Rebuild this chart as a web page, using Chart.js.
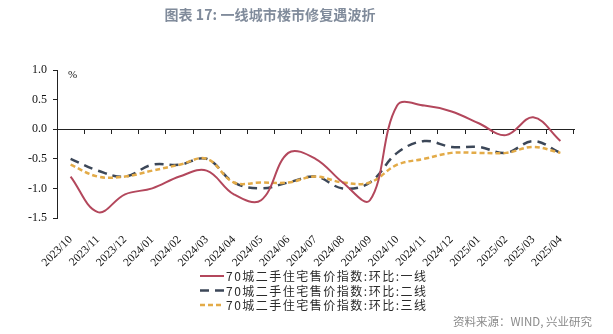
<!DOCTYPE html>
<html>
<head>
<meta charset="utf-8">
<script src="https://cdn.jsdelivr.net/npm/chart.js@4.4.1/dist/chart.umd.min.js"></script>
<style>
  html, body { margin: 0; padding: 0; background: #ffffff; }
  #wrap { position: relative; width: 613px; height: 334px; overflow: hidden; }
  #chart { position: absolute; left: 0; top: 0; }
  #title {
    position: absolute; left: 0; top: 4px; width: 540px; text-align: center;
    font: bold 14px "Noto Sans CJK SC", sans-serif; color: #808b9b; letter-spacing: 0.1px;
  }
  #unit {
    position: absolute; left: 68px; top: 68px;
    font: 11px "Liberation Serif", serif; color: #111;
  }
  #source {
    position: absolute; left: 453px; top: 313px;
    font: 11.5px "Noto Sans CJK SC", sans-serif; color: #8a8a8a;
  }
</style>
</head>
<body>
<div id="wrap">
  <canvas id="chart" width="613" height="334"></canvas>
  <div id="title">图表 17: 一线城市楼市修复遇波折</div>
  <div id="unit">%</div>
  <div id="source">资料来源：WIND, 兴业研究</div>
</div>
<script>
// Monthly periods
const months = [
  '2023/10', '2023/11', '2023/12', '2024/01', '2024/02', '2024/03', '2024/04',
  '2024/05', '2024/06', '2024/07', '2024/08', '2024/09', '2024/10', '2024/11',
  '2024/12', '2025/01', '2025/02', '2025/03', '2025/04'
];

// Second-hand home price index, month-on-month change (%)
const tier1 = [-0.8, -1.4, -1.1, -1.0, -0.8, -0.7, -1.1, -1.2, -0.4, -0.5, -0.9, -1.2, 0.4, 0.4, 0.3, 0.1, -0.1, 0.2, -0.2];
const tier2 = [-0.5, -0.7, -0.8, -0.6, -0.6, -0.5, -0.9, -1.0, -0.9, -0.8, -1.0, -0.9, -0.4, -0.2, -0.3, -0.3, -0.4, -0.2, -0.4];
const tier3 = [-0.6, -0.8, -0.8, -0.7, -0.6, -0.5, -0.9, -0.9, -0.9, -0.8, -0.9, -0.9, -0.6, -0.5, -0.4, -0.4, -0.4, -0.3, -0.4];

const seriesNames = [
  '70城二手住宅售价指数:环比:一线',
  '70城二手住宅售价指数:环比:二线',
  '70城二手住宅售价指数:环比:三线'
];

const yTicks = [1.0, 0.5, 0.0, -0.5, -1.0, -1.5];

Chart.defaults.font.family = '"Liberation Serif", serif';
Chart.defaults.color = '#111';

// Stacked legend rows under the axis labels
const stackedLegend = {
  id: 'stackedLegend',
  afterDraw(chart) {
    const ctx = chart.ctx;
    chart.data.datasets.forEach((ds, i) => {
      const y = 276 + i * 14.5;
      ctx.save();
      ctx.strokeStyle = ds.borderColor;
      ctx.lineWidth = ds.borderWidth;
      ctx.setLineDash(ds.borderDash || []);
      ctx.beginPath();
      ctx.moveTo(200, y);
      ctx.lineTo(224, y);
      ctx.stroke();
      ctx.setLineDash([]);
      ctx.fillStyle = '#2a2a2a';
      ctx.font = '12px "Noto Sans CJK SC", sans-serif';
      ctx.letterSpacing = '1.5px';
      ctx.textBaseline = 'middle';
      ctx.textAlign = 'left';
      ctx.fillText(ds.label, 226, y + 0.5);
      ctx.restore();
    });
  }
};

new Chart(document.getElementById('chart'), {
  type: 'line',
  data: {
    labels: months,
    datasets: [
      {
        label: seriesNames[0], data: tier1,
        borderColor: '#b3475c', borderWidth: 2, borderDash: [],
        pointRadius: 0, tension: 0.38, fill: false, order: 0
      },
      {
        label: seriesNames[1], data: tier2,
        borderColor: '#3c4758', borderWidth: 2.5, borderDash: [9, 6],
        pointRadius: 0, tension: 0.38, fill: false, order: 2
      },
      {
        label: seriesNames[2], data: tier3,
        borderColor: '#e3ab48', borderWidth: 2.5, borderDash: [5, 3],
        pointRadius: 0, tension: 0.38, fill: false, order: 1
      }
    ]
  },
  options: {
    responsive: false,
    animation: false,
    layout: { padding: { top: 70, right: 39, bottom: 0, left: 0 } },
    plugins: {
      legend: { display: false },
      title: { display: false },
      tooltip: { enabled: false }
    },
    scales: {
      x: {
        type: 'category',
        offset: true,
        grid: { display: false },
        border: { display: false },
        ticks: {
          autoSkip: false, maxRotation: 45, minRotation: 45, padding: 7,
          font: { size: 11.5 }, color: '#111'
        },
        afterFit(scale) { scale.height = 116; }
      },
      xZero: {
        type: 'category',
        axis: 'x',
        position: { y: 0 },
        offset: true,
        grid: { display: true, drawOnChartArea: false, drawTicks: true, tickLength: 4, color: '#222', offset: true },
        border: { display: true, color: '#222', width: 1 },
        ticks: { display: false }
      },
      y: {
        min: -1.5, max: 1.0,
        afterBuildTicks(scale) { scale.ticks = yTicks.map(v => ({ value: v })); },
        grid: { display: true, drawOnChartArea: false, drawTicks: true, tickLength: 4, color: '#222' },
        border: { display: true, color: '#222', width: 1 },
        ticks: {
          padding: 6, font: { size: 12 }, color: '#111',
          callback: v => Number(v).toFixed(1)
        },
        afterFit(scale) { scale.width = 57; }
      }
    }
  },
  plugins: [stackedLegend]
});
</script>
</body>
</html>
